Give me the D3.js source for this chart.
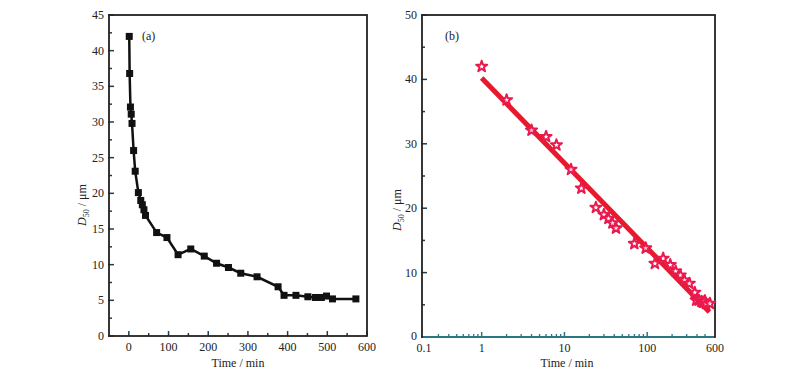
<!DOCTYPE html>
<html><head><meta charset="utf-8">
<script src="https://cdn.jsdelivr.net/npm/d3@7"></script>
<style>body{margin:0;background:#fff}svg{display:block}text{font-family:"Liberation Serif","Times New Roman",serif;fill:#222}</style>
</head><body>
<script>
const times = [1,2,4,6,8,12,16,24,30,34,38,42,70,96,124,156,190,221,251,282,323,376,391,421,451,470,485,498,513,572];
const d50 = [42,36.8,32.1,31.1,29.8,26.0,23.1,20.1,19.0,18.4,17.7,16.9,14.5,13.8,11.4,12.2,11.2,10.2,9.6,8.8,8.3,6.9,5.7,5.7,5.5,5.4,5.4,5.6,5.2,5.2];
const fitTimes = [1,565];
const fitValues = [40.2,3.9];
const aXTicks = [0,100,200,300,400,500,600];
const aXMinor = [50,150,250,350,450,550];
const aYTicks = [0,5,10,15,20,25,30,35,40,45];
const aYMinor = [2.5,7.5,12.5,17.5,22.5,27.5,32.5,37.5,42.5];
const bXTickValues = [0.19,1,10,100,660];
const bXTickLabels = ["0.1","1","10","100","600"];
const bXMinor = [0.3,0.4,0.5,0.6,0.7,0.8,0.9,2,3,4,5,6,7,8,9,20,30,40,50,60,70,80,90,200,300,400,500];
const bYTicks = [0,10,20,30,40,50];
const bYMinor = [5,15,25,35,45];

const svg = d3.select("body").append("svg").attr("width",806).attr("height",372);
const tickCol = "#1f3d4d";
const FS = 12;

function yLabel(g, x, y){
  const t = g.append("text").attr("transform",`translate(${x},${y}) rotate(-90)`).attr("text-anchor","middle").attr("font-size",12);
  t.append("tspan").attr("font-style","italic").text("D");
  t.append("tspan").attr("font-size",8).attr("dy",3).text("50");
  t.append("tspan").attr("dy",-3).text(" / μm");
}

// Panel (a)
{
  const x = d3.scaleLinear().domain([-50,600]).range([109,367]);
  const y = d3.scaleLinear().domain([0,45]).range([336,15]);
  const g = svg.append("g");
  g.selectAll(".xt").data(aXTicks).join("line").attr("x1",d=>x(d)).attr("x2",d=>x(d)).attr("y1",y(0)).attr("y2",y(0)-5).attr("stroke",tickCol).attr("stroke-width",1.5);
  g.selectAll(".xm").data(aXMinor).join("line").attr("x1",d=>x(d)).attr("x2",d=>x(d)).attr("y1",y(0)).attr("y2",y(0)-3).attr("stroke",tickCol).attr("stroke-width",1.5);
  g.selectAll(".yt").data(aYTicks).join("line").attr("x1",x(-50)-1).attr("x2",x(-50)+5).attr("y1",d=>y(d)).attr("y2",d=>y(d)).attr("stroke",tickCol).attr("stroke-width",1.5);
  g.selectAll(".ym").data(aYMinor).join("line").attr("x1",x(-50)).attr("x2",x(-50)+3).attr("y1",d=>y(d)).attr("y2",d=>y(d)).attr("stroke",tickCol).attr("stroke-width",1.5);
  g.append("rect").attr("x",x(-50)).attr("y",y(45)).attr("width",x(600)-x(-50)).attr("height",y(0)-y(45)).attr("fill","none").attr("stroke","#222").attr("stroke-width",1.8);
  g.selectAll(".xl").data(aXTicks).join("text").attr("x",d=>x(d)).attr("y",y(0)+15).attr("text-anchor","middle").attr("font-size",FS).text(d=>d);
  g.selectAll(".yl").data(aYTicks).join("text").attr("x",x(-50)-5).attr("y",d=>y(d)+4).attr("text-anchor","end").attr("font-size",FS).text(d=>d);
  g.append("text").attr("x",238).attr("y",367).attr("text-anchor","middle").attr("font-size",12).text("Time / min");
  yLabel(g, 86, 205);
  g.append("text").attr("x",142).attr("y",40).attr("font-size",12).text("(a)");
  const line = d3.line().x((d,i)=>x(times[i])).y(d=>y(d));
  g.append("path").datum(d50).attr("d",line).attr("fill","none").attr("stroke","#111").attr("stroke-width",2.5);
  g.selectAll(".pt").data(d50).join("rect").attr("x",(d,i)=>x(times[i])-3.5).attr("y",d=>y(d)-3.5).attr("width",7).attr("height",7).attr("fill","#111");
}

// Panel (b)
{
  const x = d3.scaleLog().domain([0.19,660]).range([422,715]);
  const y = d3.scaleLinear().domain([0,50]).range([337,15]);
  const g = svg.append("g");
  const teal = "#2a7686";
  g.selectAll(".yt").data(bYTicks).join("line").attr("x1",x(0.19)-1).attr("x2",x(0.19)+5).attr("y1",d=>y(d)).attr("y2",d=>y(d)).attr("stroke",tickCol).attr("stroke-width",1.5);
  g.selectAll(".ym").data(bYMinor).join("line").attr("x1",x(0.19)).attr("x2",x(0.19)+3).attr("y1",d=>y(d)).attr("y2",d=>y(d)).attr("stroke",tickCol).attr("stroke-width",1.5);
  g.append("rect").attr("x",x(0.19)).attr("y",y(50)).attr("width",x(660)-x(0.19)).attr("height",y(0)-y(50)).attr("fill","none").attr("stroke","#222").attr("stroke-width",1.8);
  g.append("line").attr("x1",x(0.19)+1).attr("x2",x(660)-1).attr("y1",y(0)).attr("y2",y(0)).attr("stroke",teal).attr("stroke-width",1.8);
  g.selectAll(".xt").data(bXTickValues.slice(1,4)).join("line").attr("x1",d=>x(d)).attr("x2",d=>x(d)).attr("y1",y(0)).attr("y2",y(0)-5).attr("stroke",teal).attr("stroke-width",1.5);
  g.selectAll(".xm").data(bXMinor).join("line").attr("x1",d=>x(d)).attr("x2",d=>x(d)).attr("y1",y(0)).attr("y2",y(0)-3).attr("stroke",teal).attr("stroke-width",1.3);
  g.selectAll(".xl").data(bXTickValues).join("text").attr("x",(d,i)=>x(d)+(i===0?2:0)).attr("y",y(0)+15).attr("text-anchor","middle").attr("font-size",FS).text((d,i)=>bXTickLabels[i]);
  g.selectAll(".yl").data(bYTicks).join("text").attr("x",x(0.19)-5).attr("y",d=>y(d)+(d===0?3:4)).attr("text-anchor","end").attr("font-size",FS).text(d=>d);
  g.append("text").attr("x",567).attr("y",367).attr("text-anchor","middle").attr("font-size",12).text("Time / min");
  yLabel(g, 401, 210);
  g.append("text").attr("x",445).attr("y",40).attr("font-size",12).text("(b)");
  g.append("path").datum(fitValues).attr("d",d3.line().x((d,i)=>x(fitTimes[i])).y(d=>y(d))).attr("stroke","#e8192c").attr("stroke-width",5).attr("fill","none");
  const star = d3.symbol().type(d3.symbolStar).size(38);
  g.selectAll(".st").data(d50).join("path").attr("d",star).attr("transform",(d,i)=>`translate(${x(times[i])},${y(d)})`).attr("fill","#fff").attr("fill-opacity",0.75).attr("stroke","#ea1a4e").attr("stroke-width",2).attr("stroke-linejoin","round");
}
</script>
</body></html>
